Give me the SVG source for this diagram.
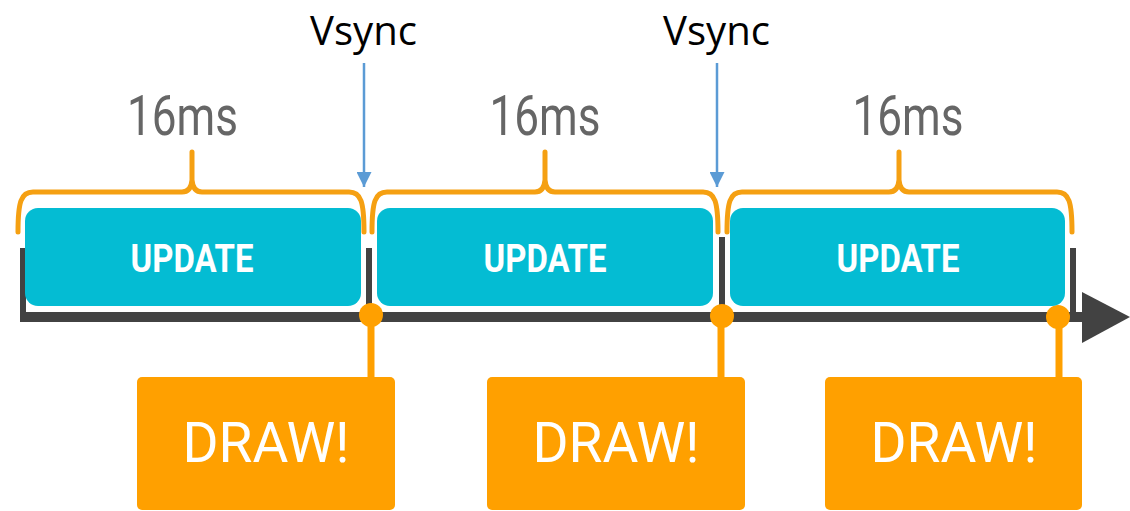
<svg xmlns="http://www.w3.org/2000/svg" width="1130" height="511" viewBox="0 0 1130 511">
  <style>
    .brace { fill: none; stroke: #F5A012; stroke-width: 5; stroke-linecap: round; stroke-linejoin: round; }
    .update { fill: #04BCD3; }
    .update-label { font-family: Roboto, "Liberation Sans", sans-serif; font-weight: bold; font-size: 38px; fill: #ffffff; text-anchor: middle; }
    .draw { fill: #FFA000; }
    .draw-label { font-family: Roboto, "Liberation Sans", sans-serif; font-size: 55px; fill: #ffffff; text-anchor: middle; }
    .ms { font-family: Roboto, "Liberation Sans", sans-serif; font-size: 56px; fill: #666666; text-anchor: middle; }
    .vsync { font-family: "Open Sans", "Liberation Sans", sans-serif; font-size: 40px; fill: #000000; text-anchor: middle; }
    .axis { stroke: #424242; fill: none; }
    .stem { stroke: #FFA000; stroke-width: 7; }
    .dot { fill: #FFA000; }
    .vline { stroke: #5B9BD5; stroke-width: 2.5; }
  </style>
  <defs>
    <marker id="vhead" markerWidth="15" markerHeight="15" refX="15" refY="7.5" orient="auto" markerUnits="userSpaceOnUse" viewBox="0 0 15 15">
      <path d="M0,0 L15,7.5 L0,15 Z" fill="#5B9BD5"/>
    </marker>
  </defs>

  <!-- timeline axis -->
  <g id="timeline">
    <path class="axis" stroke-width="10" d="M20,317 H1085"/>
    <path class="axis" stroke-width="6" d="M23,248 V322"/>
    <path class="axis" stroke-width="6" d="M369,248 V317"/>
    <path class="axis" stroke-width="6" d="M722,237 V317"/>
    <path class="axis" stroke-width="6" d="M1073,248 V317"/>
    <path d="M1082,292 L1130,317 L1082,343 Z" fill="#424242"/>
  </g>

  <!-- connectors: braces, vsync arrows, draw stems -->
  <g id="connectors">
    <path class="brace" d="M18,232 C18,202 21,192 33,192 H182 Q191,192 192,180 V152 M192,180 Q193,192 202,192 H349 C361,192 364,202 364,232"/>
    <path class="brace" d="M372,232 C372,202 375,192 387,192 H535 Q544,192 545,180 V152 M545,180 Q546,192 555,192 H703 C715,192 718,202 718,232"/>
    <path class="brace" d="M727,232 C727,202 730,192 742,192 H889 Q898,192 899,180 V152 M899,180 Q900,192 909,192 H1057 C1069,192 1072,202 1072,232"/>

    <line class="vline" x1="364" y1="63" x2="364" y2="187" marker-end="url(#vhead)"/>
    <line class="vline" x1="717" y1="63" x2="717" y2="187" marker-end="url(#vhead)"/>

    <line class="stem" x1="371" y1="315" x2="371" y2="380"/>
    <line class="stem" x1="721" y1="316" x2="721" y2="380"/>
    <line class="stem" x1="1059" y1="317" x2="1059" y2="380"/>
    <circle class="dot" cx="371" cy="315" r="12"/>
    <circle class="dot" cx="722" cy="316" r="12"/>
    <circle class="dot" cx="1058" cy="317" r="12"/>
  </g>

  <!-- labels above -->
  <g id="vsync-1"><text class="vsync" x="363.5" y="45" textLength="107" lengthAdjust="spacingAndGlyphs">Vsync</text></g>
  <g id="vsync-2"><text class="vsync" x="716.5" y="45" textLength="107" lengthAdjust="spacingAndGlyphs">Vsync</text></g>
  <g id="ms-1"><text class="ms" x="182.5" y="135" textLength="111" lengthAdjust="spacingAndGlyphs">16ms</text></g>
  <g id="ms-2"><text class="ms" x="545" y="135" textLength="111" lengthAdjust="spacingAndGlyphs">16ms</text></g>
  <g id="ms-3"><text class="ms" x="908" y="135" textLength="111" lengthAdjust="spacingAndGlyphs">16ms</text></g>

  <!-- update blocks -->
  <g id="update-1">
    <rect class="update" x="25" y="208" width="336" height="98" rx="13"/>
    <text class="update-label" x="192" y="272" textLength="123" lengthAdjust="spacingAndGlyphs">UPDATE</text>
  </g>
  <g id="update-2">
    <rect class="update" x="377" y="208" width="336" height="98" rx="13"/>
    <text class="update-label" x="545" y="272" textLength="123" lengthAdjust="spacingAndGlyphs">UPDATE</text>
  </g>
  <g id="update-3">
    <rect class="update" x="730" y="208" width="335" height="98" rx="13"/>
    <text class="update-label" x="898" y="272" textLength="123" lengthAdjust="spacingAndGlyphs">UPDATE</text>
  </g>

  <!-- draw blocks -->
  <g id="draw-1">
    <rect class="draw" x="137" y="377" width="258" height="133" rx="5"/>
    <text class="draw-label" x="266" y="462">DRAW!</text>
  </g>
  <g id="draw-2">
    <rect class="draw" x="487" y="377" width="258" height="133" rx="5"/>
    <text class="draw-label" x="616" y="462">DRAW!</text>
  </g>
  <g id="draw-3">
    <rect class="draw" x="825" y="377" width="257" height="133" rx="5"/>
    <text class="draw-label" x="954" y="462">DRAW!</text>
  </g>
</svg>
